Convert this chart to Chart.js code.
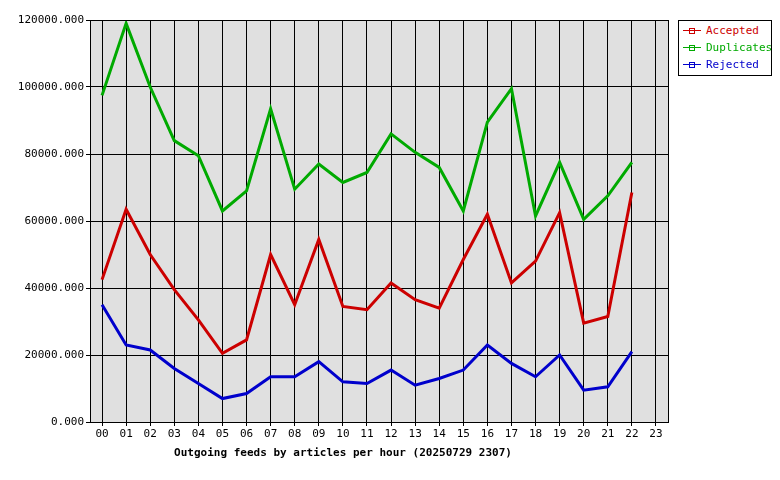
<!DOCTYPE html>
<html><head><meta charset="utf-8">
<script src="https://cdn.jsdelivr.net/npm/chart.js@4"></script>
<style>
body{margin:0;background:#fff;font-family:"DejaVu Sans Mono",monospace;}
#wrap{position:relative;width:780px;height:480px;}
#leg{position:absolute;left:678px;top:20px;width:92px;height:54px;border:1px solid #000;background:#fff;font-size:11px;}
.it{position:relative;height:15px;margin-top:2px;padding-left:27px;line-height:15px;}
.it i{position:absolute;left:4px;top:7px;width:18px;height:1px;}
.it b{position:absolute;left:10px;top:5px;width:4px;height:4px;border:1px solid;}
</style></head><body>
<div id="wrap"><canvas id="c" width="780" height="480"></canvas>
<div id="leg"></div></div>
<script>
const categories=["00","01","02","03","04","05","06","07","08","09","10","11","12","13","14","15","16","17","18","19","20","21","22","23"];
const accepted=[42500,63500,50000,39500,30500,20500,24500,50000,35000,54500,34500,33500,41500,36500,34000,48500,62000,41500,48000,62500,29500,31500,68500];
const duplicates=[97500,119000,100000,84000,79500,63000,69000,93500,69500,77000,71500,74500,86000,80500,76000,63000,89500,99500,61500,77500,60500,67500,77500];
const rejected=[35000,23000,21500,16000,11500,7000,8500,13500,13500,18000,12000,11500,15500,11000,13000,15500,23000,17500,13500,20000,9500,10500,21000];
const series=[["Accepted",accepted,"#cc0000"],["Duplicates",duplicates,"#00aa00"],["Rejected",rejected,"#0000cc"]];
const leg=document.getElementById('leg');
series.forEach(s=>{leg.innerHTML+=`<div class="it" style="color:${s[2]}"><i style="background:${s[2]}"></i><b style="border-color:${s[2]}"></b>${s[0]}</div>`;});
Chart.defaults.font.family='"DejaVu Sans Mono",monospace';
Chart.defaults.font.size=11;
Chart.defaults.color='#000';
const bg={id:'bg',beforeDraw(c){const a=c.chartArea,x=c.ctx;x.save();x.fillStyle='#e0e0e0';x.fillRect(a.left,a.top,a.right-a.left,a.bottom-a.top);x.restore();},
afterDraw(c){const a=c.chartArea,x=c.ctx;x.save();x.strokeStyle='#000';x.lineWidth=1;x.strokeRect(a.left+0.5,a.top+0.5,a.right-a.left,a.bottom-a.top);
x.font='bold 11px "DejaVu Sans Mono",monospace';x.fillStyle='#000';x.textAlign='center';x.fillText('Outgoing feeds by articles per hour (20250729 2307)',343,456);x.restore();}};
new Chart(document.getElementById('c'),{type:'line',
data:{labels:categories,datasets:series.map(s=>({label:s[0],data:s[1],borderColor:s[2],borderWidth:3,pointRadius:0,tension:0,fill:false}))},
options:{responsive:false,animation:false,events:[],layout:{padding:{left:0,top:20,right:112,bottom:0}},
plugins:{legend:{display:false},tooltip:{enabled:false}},
scales:{x:{offset:true,grid:{offset:false,color:'#000',drawTicks:true,tickLength:4},border:{display:false},ticks:{maxRotation:0,autoSkip:false,padding:2},afterFit(a){a.height=58;}},
y:{min:0,max:120000,grid:{color:'#000',tickLength:4},border:{display:false},ticks:{stepSize:20000,callback:v=>v.toFixed(3),padding:2},afterFit(a){a.width=90;}}}},
plugins:[bg]});
</script></body></html>
